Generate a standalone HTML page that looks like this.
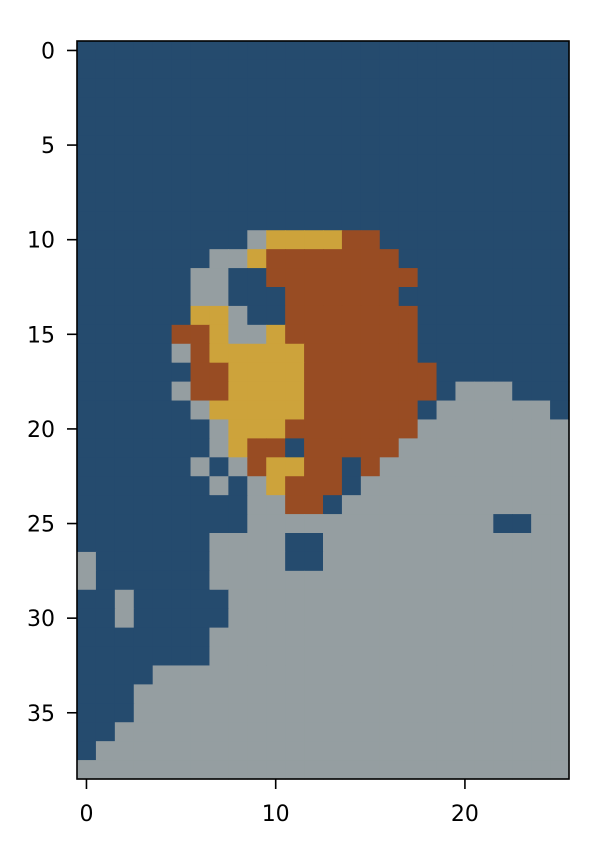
<!DOCTYPE html>
<html><head><meta charset="utf-8"><style>
html,body{margin:0;padding:0;background:#fff;}
svg{display:block;}
text{font-family:"DejaVu Sans","Liberation Sans",sans-serif;font-size:22px;fill:#000;}
</style></head><body>
<svg id="chart" width="612" height="864" viewBox="0 0 612 864" xmlns="http://www.w3.org/2000/svg">
<g id="cells"></g>
<rect x="77" y="41" width="492" height="738" fill="none" stroke="#000" stroke-width="1.6"/>
<g id="ticks"></g>
</svg>
<script>
// B = dark blue, G = gray, O = brown, Y = gold
const gridRows = [
"BBBBBBBBBBBBBBBBBBBBBBBBBB",
"BBBBBBBBBBBBBBBBBBBBBBBBBB",
"BBBBBBBBBBBBBBBBBBBBBBBBBB",
"BBBBBBBBBBBBBBBBBBBBBBBBBB",
"BBBBBBBBBBBBBBBBBBBBBBBBBB",
"BBBBBBBBBBBBBBBBBBBBBBBBBB",
"BBBBBBBBBBBBBBBBBBBBBBBBBB",
"BBBBBBBBBBBBBBBBBBBBBBBBBB",
"BBBBBBBBBBBBBBBBBBBBBBBBBB",
"BBBBBBBBBBBBBBBBBBBBBBBBBB",
"BBBBBBBBBGYYYYOOBBBBBBBBBB",
"BBBBBBBGGYOOOOOOOBBBBBBBBB",
"BBBBBBGGBBOOOOOOOOBBBBBBBB",
"BBBBBBGGBBBOOOOOOBBBBBBBBB",
"BBBBBBYYGBBOOOOOOOBBBBBBBB",
"BBBBBOOYGGYOOOOOOOBBBBBBBB",
"BBBBBGOYYYYYOOOOOOBBBBBBBB",
"BBBBBBOOYYYYOOOOOOOBBBBBBB",
"BBBBBGOOYYYYOOOOOOOBGGGBBB",
"BBBBBBGYYYYYOOOOOOBGGGGGGB",
"BBBBBBBGYYYOOOOOOOGGGGGGGG",
"BBBBBBBGYOOBOOOOOGGGGGGGGG",
"BBBBBBGBGOYYOOBOGGGGGGGGGG",
"BBBBBBBGBGYOOOBGGGGGGGGGGG",
"BBBBBBBBBGGOOBGGGGGGGGGGGG",
"BBBBBBBBBGGGGGGGGGGGGGBBGG",
"BBBBBBBGGGGBBGGGGGGGGGGGGG",
"GBBBBBBGGGGBBGGGGGGGGGGGGG",
"GBBBBBBGGGGGGGGGGGGGGGGGGG",
"BBGBBBBBGGGGGGGGGGGGGGGGGG",
"BBGBBBBBGGGGGGGGGGGGGGGGGG",
"BBBBBBBGGGGGGGGGGGGGGGGGGG",
"BBBBBBBGGGGGGGGGGGGGGGGGGG",
"BBBBGGGGGGGGGGGGGGGGGGGGGG",
"BBBGGGGGGGGGGGGGGGGGGGGGGG",
"BBBGGGGGGGGGGGGGGGGGGGGGGG",
"BBGGGGGGGGGGGGGGGGGGGGGGGG",
"BGGGGGGGGGGGGGGGGGGGGGGGGG",
"GGGGGGGGGGGGGGGGGGGGGGGGGG"
];
const xTicks = [0, 10, 20];
const yTicks = [0, 5, 10, 15, 20, 25, 30, 35];
const palette = {B:"#254b6e", G:"#959ea1", O:"#984c23", Y:"#cda33b"};

const L = 77, T = 41, W = 492, H = 738;
const nCols = gridRows[0].length, nRows = gridRows.length;
const cw = W / nCols, ch = H / nRows;
function xPos(c){ return L + (c + 0.5) * cw; }
function yPos(r){ return T + (r + 0.5) * ch; }
const NS = "http://www.w3.org/2000/svg";
const cells = document.getElementById('cells');
for (let r = 0; r < nRows; r++) {
  for (let c = 0; c < nCols; c++) {
    const rect = document.createElementNS(NS, 'rect');
    
    
    rect.setAttribute('x', (xPos(c) - cw/2).toFixed(2));
    rect.setAttribute('y', (yPos(r) - ch/2).toFixed(2));
    rect.setAttribute('width', (cw + 0.6).toFixed(2));
    rect.setAttribute('height', (ch + 0.6).toFixed(2));
    rect.setAttribute('fill', palette[gridRows[r][c]]);
    cells.appendChild(rect);
  }
}
const ticks = document.getElementById('ticks');
xTicks.forEach(v => {
  const x = xPos(v);
  const ln = document.createElementNS(NS, 'line');
  
  
  ln.setAttribute('x1', x); ln.setAttribute('x2', x);
  ln.setAttribute('y1', T + H); ln.setAttribute('y2', T + H + 10);
  ln.setAttribute('stroke', '#000'); ln.setAttribute('stroke-width', '1.6');
  ticks.appendChild(ln);
  const tx = document.createElementNS(NS, 'text');
  
  
  tx.setAttribute('x', x); tx.setAttribute('y', T + H + 42);
  tx.setAttribute('text-anchor', 'middle');
  tx.textContent = v;
  ticks.appendChild(tx);
});
yTicks.forEach(v => {
  const y = yPos(v);
  const ln = document.createElementNS(NS, 'line');
  
  
  ln.setAttribute('x1', L - 10); ln.setAttribute('x2', L);
  ln.setAttribute('y1', y); ln.setAttribute('y2', y);
  ln.setAttribute('stroke', '#000'); ln.setAttribute('stroke-width', '1.6');
  ticks.appendChild(ln);
  const tx = document.createElementNS(NS, 'text');
  
  
  tx.setAttribute('x', L - 22); tx.setAttribute('y', y + 8);
  tx.setAttribute('text-anchor', 'end');
  tx.textContent = v;
  ticks.appendChild(tx);
});
</script>
</body></html>
